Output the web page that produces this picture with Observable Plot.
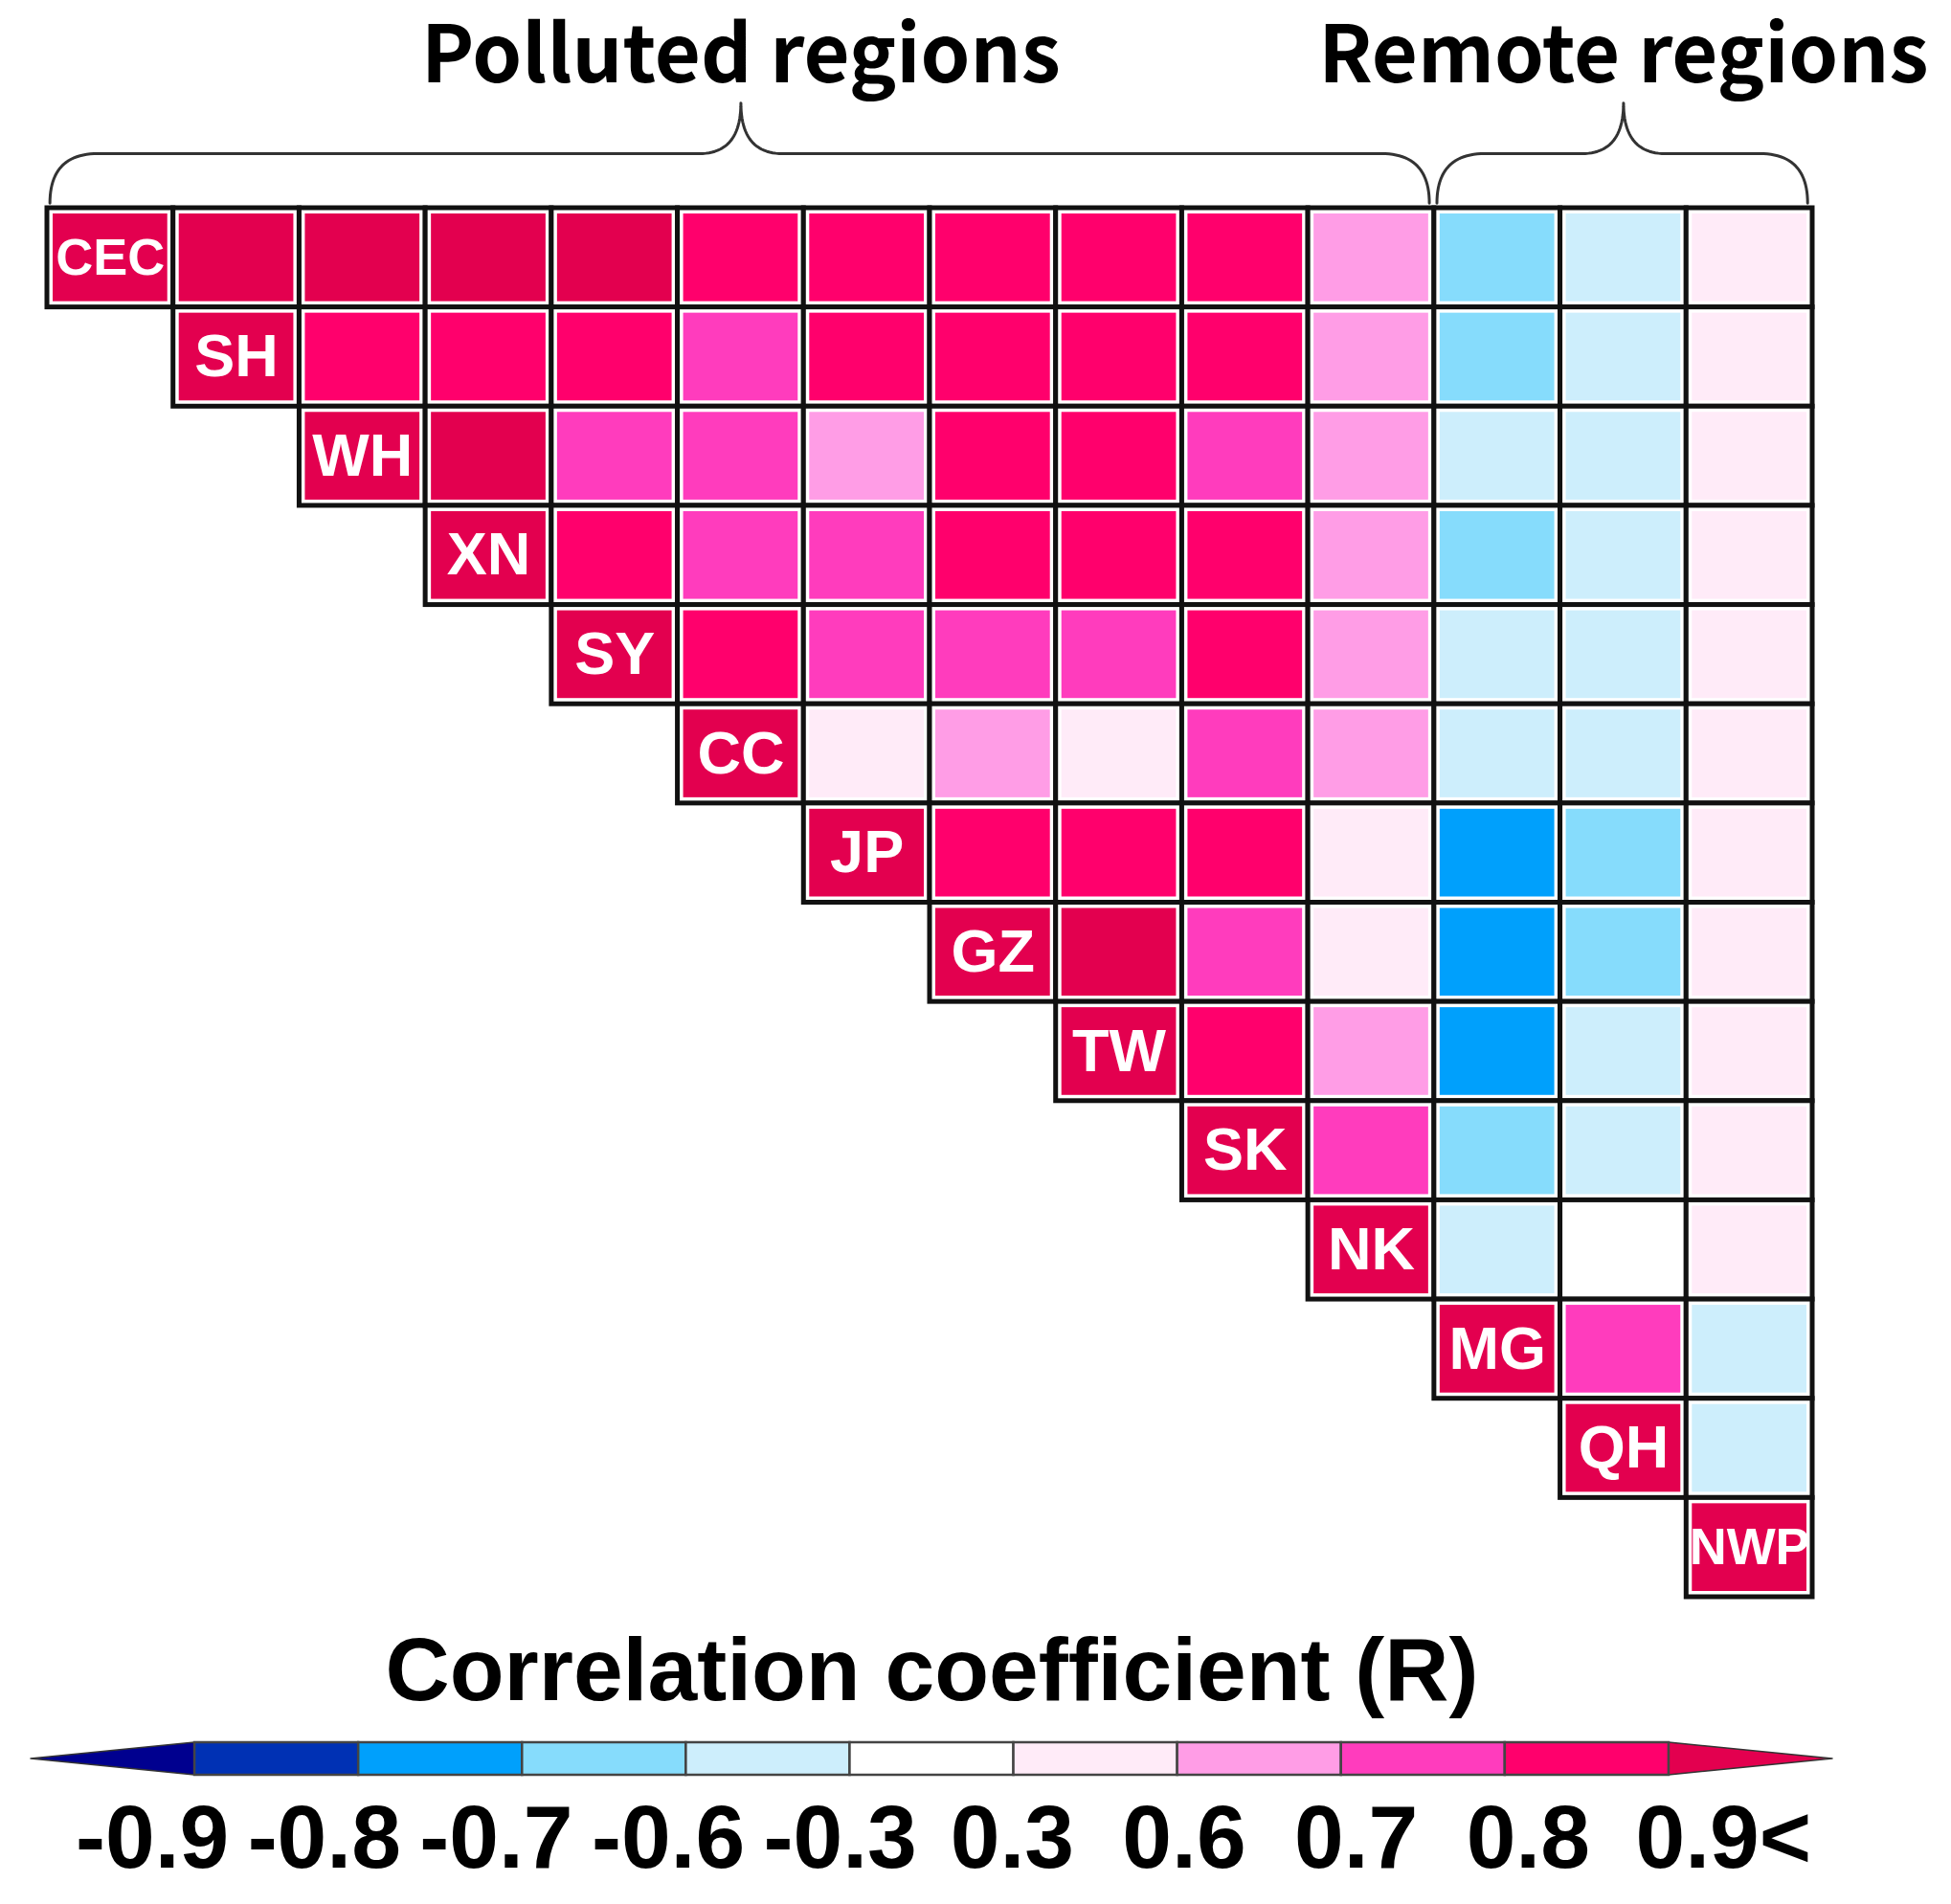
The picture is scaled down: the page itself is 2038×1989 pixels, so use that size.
<!DOCTYPE html>
<html><head><meta charset="utf-8">
<script src="https://cdn.jsdelivr.net/npm/d3@7"></script>
<script src="https://cdn.jsdelivr.net/npm/@observablehq/plot@0.6"></script>
<style>html,body{margin:0;padding:0;background:#fff;} #chart svg{display:block;}</style>
</head><body><div id="chart"></div>
<script>
// ---- data ----
const regions = ["CEC","SH","WH","XN","SY","CC","JP","GZ","TW","SK","NK","MG","QH","NWP"];
// each row starts at the diagonal (value 1)
const rowCEC = [1, 0.93, 0.92, 0.93, 0.91, 0.87, 0.86, 0.88, 0.86, 0.85, 0.65, -0.64, -0.45, 0.42];
const rowSH  = [1, 0.86, 0.87, 0.85, 0.76, 0.86, 0.85, 0.85, 0.84, 0.66, -0.63, -0.47, 0.40];
const rowWH  = [1, 0.92, 0.74, 0.76, 0.64, 0.86, 0.85, 0.73, 0.65, -0.48, -0.44, 0.38];
const rowXN  = [1, 0.85, 0.74, 0.75, 0.86, 0.87, 0.84, 0.64, -0.62, -0.46, 0.41];
const rowSY  = [1, 0.84, 0.74, 0.73, 0.75, 0.85, 0.63, -0.50, -0.42, 0.37];
const rowCC  = [1, 0.44, 0.66, 0.42, 0.76, 0.62, -0.44, -0.40, 0.35];
const rowJP  = [1, 0.86, 0.85, 0.84, 0.45, -0.75, -0.66, 0.39];
const rowGZ  = [1, 0.91, 0.76, 0.46, -0.74, -0.64, 0.36];
const rowTW  = [1, 0.84, 0.63, -0.76, -0.48, 0.34];
const rowSK  = [1, 0.72, -0.63, -0.43, 0.38];
const rowNK  = [1, -0.40, 0.15, 0.33];
const rowMG  = [1, 0.74, -0.41];
const rowQH  = [1, -0.44];
const rowNWP = [1];

const thresholds = [-0.9, -0.8, -0.7, -0.6, -0.3, 0.3, 0.6, 0.7, 0.8, 0.9];
const tickLabels = ["-0.9", "-0.8", "-0.7", "-0.6", "-0.3", "0.3", "0.6", "0.7", "0.8", "0.9<"];
const binColors = ["#00008f", "#0031b4", "#00a0fc", "#86dcfc", "#cdeefc", "#ffffff",
                   "#ffebf8", "#ff9de6", "#ff3cbd", "#ff006c", "#e3004f"];

const groupNames = ["Polluted regions", "Remote regions"];
const groupStart = [0, 11];
const groupEnd = [11, 14];
const colorbarTitle = "Correlation coefficient (R)";

// ---- build tables ----
const rows = [rowCEC,rowSH,rowWH,rowXN,rowSY,rowCC,rowJP,rowGZ,rowTW,rowSK,rowNK,rowMG,rowQH,rowNWP];
const cells = [];
rows.forEach((row, i) => row.forEach((r, k) => cells.push({i, j: i + k, r, a: regions[i], b: regions[i + k]})));
const diag = cells.filter(d => d.i === d.j);

// brace geometry (in cell units)
const yEnd = -0.05, yH = -0.55, yTip = -1.06, cw = 0.38, mw = 0.33;
function quad(p0, c, p1, n = 24) {
  const out = [];
  for (let s = 0; s <= n; s++) {
    const t = s / n, u = 1 - t;
    out.push([u*u*p0[0] + 2*u*t*c[0] + t*t*p1[0], u*u*p0[1] + 2*u*t*c[1] + t*t*p1[1]]);
  }
  return out;
}
const braces = [];
groupNames.forEach((g, k) => {
  const x0 = groupStart[k] + 0.02, x1 = groupEnd[k] - 0.04, mid = (groupStart[k] + groupEnd[k]) / 2;
  const pts = [
    ...quad([x0, yEnd], [x0, yH], [x0 + cw, yH]),
    ...quad([mid - mw, yH], [mid, yH], [mid, yTip]),
    ...quad([mid, yTip], [mid, yH], [mid + mw, yH]),
    ...quad([x1 - cw, yH], [x1, yH], [x1, yEnd])
  ];
  pts.forEach(p => braces.push({g, x: p[0], y: p[1]}));
});
const groupTitles = groupNames.map((g, k) => ({g, x: (groupStart[k] + groupEnd[k]) / 2}));

const cellStyle = {x1: "j", x2: d => d.j + 1, y1: "i", y2: d => d.i + 1};

const main = Plot.plot({
  width: 2038, height: 1690,
  marginLeft: 49, marginRight: 145, marginTop: 217, marginBottom: 22,
  x: {domain: [0, 14], range: [49, 1893], axis: null},
  y: {domain: [0, 14], range: [217, 1668], axis: null},
  color: {type: "threshold", domain: thresholds, range: binColors},
  style: {background: "white", overflow: "visible"},
  marks: [
    Plot.rect(cells, {...cellStyle, fill: "white", stroke: "#111", strokeWidth: 5}),
    Plot.rect(cells, {...cellStyle, fill: "r", inset: 6}),
    Plot.text(diag.filter(d => d.a.length <= 2), {x: d => d.j + 0.5, y: d => d.i + 0.5, text: "a",
      fill: "white", fontSize: 63, fontWeight: "bold", fontFamily: "Liberation Sans, Arial, sans-serif"}),
    Plot.text(diag.filter(d => d.a.length > 2), {x: d => d.j + 0.5, y: d => d.i + 0.5, text: "a",
      fill: "white", fontSize: 54, fontWeight: "bold", fontFamily: "Liberation Sans, Arial, sans-serif"}),
    Plot.line(braces, {x: "x", y: "y", z: "g", stroke: "#333", strokeWidth: 3}),
    Plot.text(groupTitles, {x: "x", y: -1.27, text: "g", lineAnchor: "bottom", fill: "black",
      fontSize: 83, fontWeight: "bold", fontFamily: "Noto Sans CJK KR, Noto Sans, sans-serif"})
  ]
});

// ---- colorbar ----
const legendBoxes = binColors.slice(1, 10).map((c, k) => ({k: k + 1, c}));
const leftTri = [{x: 0, y1: 0.5, y2: 0.5, c: binColors[0]}, {x: 1, y1: 0, y2: 1, c: binColors[0]}];
const rightTri = [{x: 10, y1: 0, y2: 1, c: binColors[10]}, {x: 11, y1: 0.5, y2: 0.5, c: binColors[10]}];
const tickTable = tickLabels.map((t, k) => ({t, k: k + 1}));
const fontBar = "Liberation Sans, Arial, sans-serif";
// tick labels are spread slightly wider than the colour boxes, as in the original
const tickSpread = 1.05, tickShift = -0.31;

const legend = Plot.plot({
  width: 2038, height: 299,
  marginLeft: 32, marginRight: 124, marginTop: 130, marginBottom: 135,
  x: {domain: [0, 11], axis: null},
  y: {domain: [0, 1], axis: null},
  color: {type: "identity"},
  style: {background: "white", overflow: "visible"},
  marks: [
    Plot.areaY(leftTri, {x: "x", y1: "y1", y2: "y2", fill: "c", stroke: "#333", strokeWidth: 1.5}),
    Plot.areaY(rightTri, {x: "x", y1: "y1", y2: "y2", fill: "c", stroke: "#333", strokeWidth: 1.5}),
    Plot.rect(legendBoxes, {x1: "k", x2: d => d.k + 1, y1: 0, y2: 1, fill: "c", stroke: "#444", strokeWidth: 2.5}),
    Plot.text([colorbarTitle], {frameAnchor: "top", dy: -45, lineAnchor: "bottom", text: d => d,
      fontSize: 93, fontWeight: "bold", fontFamily: fontBar, fill: "black"}),
    Plot.text(tickTable.slice(0, 9), {x: d => d.k * tickSpread + tickShift, y: 0, dy: 96, lineAnchor: "bottom", text: "t",
      fontSize: 93, fontWeight: "bold", fontFamily: fontBar, fill: "black"}),
    Plot.text(tickTable.slice(9), {x: "k", y: 0, dy: 96, dx: -35, textAnchor: "start", lineAnchor: "bottom", text: "t",
      fontSize: 93, fontWeight: "bold", fontFamily: fontBar, fill: "black"})
  ]
});

const root = document.getElementById("chart");
root.appendChild(main);
root.appendChild(legend);
</script>
</body></html>
